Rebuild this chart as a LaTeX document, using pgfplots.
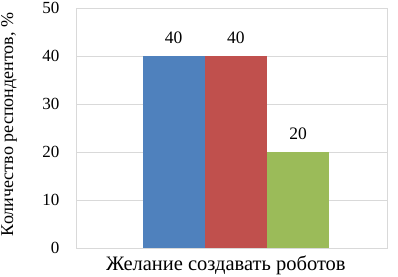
\documentclass[border=0pt]{standalone}
\usepackage{fontspec}
\setmainfont{Liberation Serif}
\usepackage{pgfplots}
\pgfplotsset{compat=1.18}
\definecolor{cblue}{HTML}{4F81BD}
\definecolor{cred}{HTML}{C0504D}
\definecolor{cgreen}{HTML}{9BBB59}
\definecolor{cgrid}{HTML}{D9D9D9}
\begin{document}
\begin{tikzpicture}[x=1bp,y=1bp]
\useasboundingbox (0,0) rectangle (398,277);
\begin{axis}[
  at={(76bp,29bp)}, anchor=south west,
  scale only axis, width=311bp, height=240bp,
  xmin=-2.57, xmax=2.43, ymin=0, ymax=50,
  ytick={0,10,20,30,40,50}, xtick=\empty,
  ymajorgrids, grid style={cgrid, line width=0.8pt},
  axis line style={cgrid, line width=0.8pt},
  major tick length=0pt,
  /pgf/number format/assume math mode=true,
  yticklabel style={xshift=-13bp, font=\fontsize{17bp}{20bp}\selectfont},
  ylabel={Количество респондентов, \%},
  xlabel={Желание создавать роботов},
  every axis y label/.style={at={(axis description cs:0,0.515)}, xshift=-67bp, rotate=90, anchor=center, font=\fontsize{18bp}{21bp}\selectfont},
  every axis x label/.style={at={(axis description cs:0.482,0)}, yshift=-17bp, anchor=center, font=\fontsize{20.5bp}{23bp}\selectfont},
  ybar, bar width=1, bar shift=0,
  nodes near coords,
  every node near coord/.append style={anchor=center, yshift=18bp, font=\fontsize{17.5bp}{20bp}\selectfont},
]
\addplot[fill=cblue, draw=none] coordinates {(-1,40)};
\addplot[fill=cred, draw=none] coordinates {(0,40)};
\addplot[fill=cgreen, draw=none] coordinates {(1,20)};
\end{axis}
\end{tikzpicture}
\end{document}
